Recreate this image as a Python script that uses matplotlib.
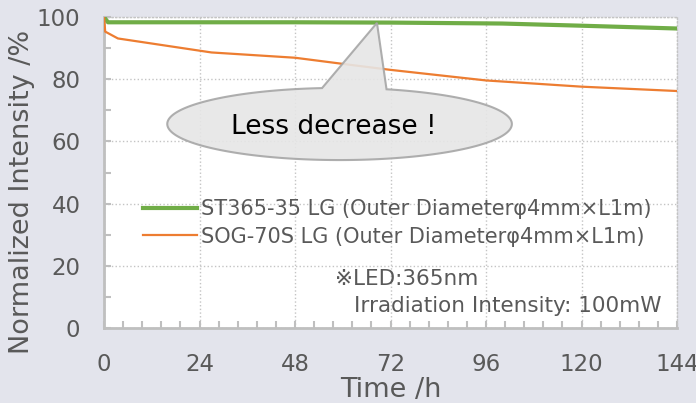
import numpy as np
import matplotlib
matplotlib.use("Agg")
import matplotlib.pyplot as plt
from matplotlib.patches import Polygon

plt.rcParams['font.family'] = ['DejaVu Sans', 'Noto Sans CJK JP']
plt.rcParams['xtick.major.pad'] = 18
plt.rcParams['ytick.major.pad'] = 17

# data
hours_st = [0, 1, 24, 48, 72, 100, 120, 144]
st365 = [100, 98.3, 98.3, 98.3, 98.2, 97.9, 97.2, 96.3]
hours_sog = [0, 0.3, 3.5, 27, 48, 62, 72, 96, 120, 144]
sog70 = [100, 95.3, 93.1, 88.6, 86.9, 84.6, 83.0, 79.6, 77.6, 76.2]
xticks = [0, 24, 48, 72, 96, 120, 144]
yticks = [0, 20, 40, 60, 80, 100]
label_st = "ST365-35 LG (Outer Diameterφ4mm×L1m)"
label_sog = "SOG-70S LG (Outer Diameterφ4mm×L1m)"

txt = '#595959'
fig = plt.figure(figsize=(6.96, 4.03), dpi=100, facecolor='#e3e4ec')
ax = fig.add_axes([104/696, 75/403, 573/696, 311/403])
ax.set_facecolor('white')

ax.plot(hours_st, st365, color='#70ad47', lw=3, label=label_st, zorder=3)
ax.plot(hours_sog, sog70, color='#ed7d31', lw=1.6, label=label_sog, zorder=3)

ax.set_xlim(0, 144)
ax.set_ylim(0, 100)
ax.set_xticks(xticks)
ax.set_yticks(yticks)
ax.set_xticks(np.arange(0, 144.1, 4.8), minor=True)
ax.set_yticks(np.arange(10, 100, 20), minor=True)
ax.tick_params(which='both', direction='in', color='#bfbfbf', width=1.5, length=5)
ax.tick_params(axis='both', which='major', labelsize=16.5, labelcolor=txt)
ax.grid(True, which='major', ls=':', color='#c4c4c4', lw=1)
for s in ['left', 'bottom']:
    ax.spines[s].set_color('#bfbfbf')
    ax.spines[s].set_linewidth(2)
for s in ['top', 'right']:
    ax.spines[s].set_color('#c4c4c4')
    ax.spines[s].set_linestyle(':')
    ax.spines[s].set_linewidth(1)

ax.set_xlabel('Time /h', fontsize=19.5, color=txt, labelpad=1)
ax.set_ylabel('Normalized Intensity /%', fontsize=19.5, color=txt)
ax.yaxis.set_label_coords(-0.12, 0.439)

leg = ax.legend(loc='upper left', bbox_to_anchor=(0.054, 0.44), frameon=False,
                fontsize=15, handlelength=2.6, handletextpad=0.15,
                labelspacing=0.35, borderaxespad=0)
for t in leg.get_texts():
    t.set_color(txt)

ax.text(0.404, 0.157, '※LED:365nm', transform=ax.transAxes, fontsize=15.5,
        color=txt, va='center')
ax.text(0.437, 0.07, 'Irradiation Intensity: 100mW', transform=ax.transAxes,
        fontsize=15.5, color=txt, va='center')

# callout bubble (ellipse with a pointer up to the green line)
cx, cy, a, b = 59.2, 65.6, 43.3, 11.6
t1 = np.arccos((71.0 - cx) / a)
t2 = np.arccos((54.8 - cx) / a)
tt = np.linspace(t2, t1 + 2 * np.pi, 300)
pts = np.column_stack([cx + a * np.cos(tt), cy + b * np.sin(tt)])
pts = np.vstack([pts, [68.6, 98.1]])
ax.add_patch(Polygon(pts, closed=True, facecolor='#e6e6e6', edgecolor='#a6a6a6',
                     lw=1.5, alpha=0.9, zorder=5))
ax.text(57.8, 64.5, 'Less decrease !', fontsize=19, color='black',
        ha='center', va='center', zorder=6)

fig.savefig('out.png', dpi=100, facecolor=fig.get_facecolor())
